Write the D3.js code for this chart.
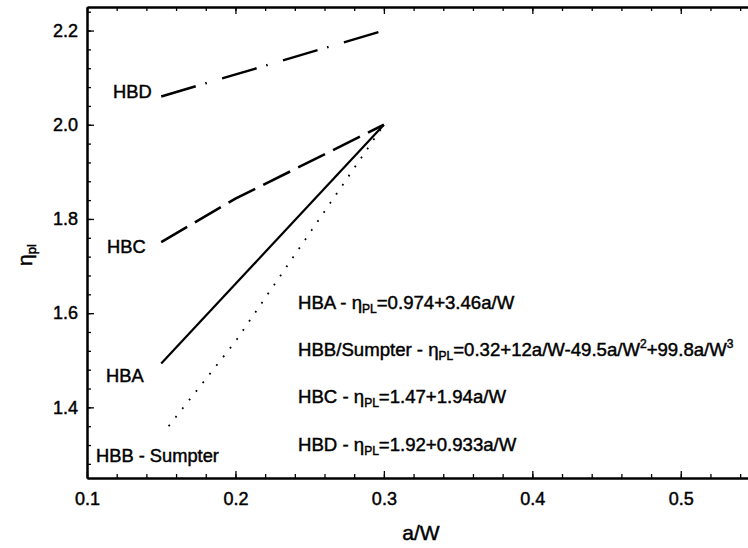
<!DOCTYPE html>
<html>
<head>
<meta charset="utf-8">
<script src="https://cdn.jsdelivr.net/npm/d3@7"></script>
<style>
  html, body { margin: 0; padding: 0; background: #fff; }
  svg { display: block; font-family: "Liberation Sans", Arial, sans-serif; }
  svg text { stroke: #000; stroke-width: 0.45px; }
</style>
</head>
<body>
<svg id="chart" width="748" height="548"></svg>
<script>
// ---- data ----
const xDomain = [0.1, 0.55];
const yDomain = [1.25, 2.25];
const xTickLabels = [0.1, 0.2, 0.3, 0.4, 0.5];
const yTickLabels = [1.4, 1.6, 1.8, 2.0, 2.2];

const hbaX = [0.15, 0.3];
const hbaY = [1.493, 2.0];

const hbbX = [0.155, 0.175, 0.2, 0.225, 0.25, 0.275, 0.3];
const hbbY = [1.36, 1.44, 1.54, 1.655, 1.77, 1.885, 2.0];

const hbcX = [0.15, 0.2, 0.3];
const hbcY = [1.751, 1.843, 2.0];

const hbdX = [0.15, 0.3];
const hbdY = [2.06, 2.2];

const seriesLabels = ["HBD", "HBC", "HBA", "HBB - Sumpter"];
const equations = [
  [["HBA - η", 0], ["PL", -1], ["=0.974+3.46a/W", 0]],
  [["HBB/Sumpter - η", 0], ["PL", -1], ["=0.32+12a/W-49.5a/W", 0], ["2", 1], ["+99.8a/W", 0], ["3", 1]],
  [["HBC - η", 0], ["PL", -1], ["=1.47+1.94a/W", 0]],
  [["HBD - η", 0], ["PL", -1], ["=1.92+0.933a/W", 0]]
];

(function draw() {
const svg = d3.select("#chart");
const mLeft = 87, mRight = 755, mTop = 7, mBottom = 478;
const x = d3.scaleLinear().domain(xDomain).range([mLeft, mRight]);
const y = d3.scaleLinear().domain(yDomain).range([mBottom, mTop]);

const xMinor = d3.range(0.1, 0.5501, 0.02).map(v => +v.toFixed(2));
const yMinor = d3.range(1.28, 2.2501, 0.04).map(v => +v.toFixed(2));

function styleAxis(g) {
  g.selectAll("path.domain").attr("stroke", "#000").attr("stroke-width", 2);
  g.selectAll(".tick line").attr("stroke", "#000").attr("stroke-width", 1.3);
  g.selectAll("text").attr("fill", "#000").attr("font-size", 18)
    .attr("font-family", "'Liberation Sans', Arial, sans-serif");
}

// bottom axis
styleAxis(svg.append("g").attr("transform", `translate(0,${mBottom})`)
  .call(d3.axisBottom(x).tickValues(xMinor).tickFormat("").tickSize(-4).tickSizeOuter(0)));
styleAxis(svg.append("g").attr("transform", `translate(0,${mBottom})`)
  .call(d3.axisBottom(x).tickValues(xTickLabels).tickFormat(d3.format(".1f")).tickSize(-7).tickSizeOuter(0).tickPadding(14)));

// top axis
styleAxis(svg.append("g").attr("transform", `translate(0,${mTop})`)
  .call(d3.axisTop(x).tickValues(xMinor).tickFormat("").tickSize(-4).tickSizeOuter(0)));
styleAxis(svg.append("g").attr("transform", `translate(0,${mTop})`)
  .call(d3.axisTop(x).tickValues(xTickLabels).tickFormat("").tickSize(-7).tickSizeOuter(0)));

// left axis
styleAxis(svg.append("g").attr("transform", `translate(${mLeft},0)`)
  .call(d3.axisLeft(y).tickValues(yMinor).tickFormat("").tickSize(-4).tickSizeOuter(0)));
styleAxis(svg.append("g").attr("transform", `translate(${mLeft},0)`)
  .call(d3.axisLeft(y).tickValues(yTickLabels).tickFormat(d3.format(".1f")).tickSize(-7).tickSizeOuter(0).tickPadding(9)));

// right axis (falls just outside the window)
styleAxis(svg.append("g").attr("transform", `translate(${mRight},0)`)
  .call(d3.axisRight(y).tickValues(yTickLabels).tickFormat("").tickSize(-7).tickSizeOuter(0)));

// ---- lines ----
const line = d3.line().x(d => x(d[0])).y(d => y(d[1]));
const zip = (a, b) => a.map((v, i) => [v, b[i]]);

svg.append("path").datum(zip(hbdX, hbdY)).attr("d", line)
  .attr("fill", "none").attr("stroke", "#000").attr("stroke-width", 2.4)
  .attr("stroke-dasharray", "36,10,1.5,16");

svg.append("path").datum(zip(hbcX, hbcY)).attr("d", line)
  .attr("fill", "none").attr("stroke", "#000").attr("stroke-width", 2.6)
  .attr("stroke-dasharray", "30,9");

svg.append("path").datum(zip(hbaX, hbaY)).attr("d", line)
  .attr("fill", "none").attr("stroke", "#000").attr("stroke-width", 2.2);

svg.append("path").datum(zip(hbbX, hbbY)).attr("d", line)
  .attr("fill", "none").attr("stroke", "#000").attr("stroke-width", 1.8)
  .attr("stroke-dasharray", "1.8,9.2");

// ---- series labels ----
const labelPos = [[113, 98], [107, 253], [106, 382], [96, 462]];
svg.selectAll("text.serieslabel").data(seriesLabels).enter().append("text")
  .attr("class", "serieslabel")
  .attr("x", (d, i) => labelPos[i][0]).attr("y", (d, i) => labelPos[i][1])
  .attr("font-size", 18.3).attr("fill", "#000").text(d => d);

// ---- equations ----
const eqBaselines = [309, 356, 403, 451];
equations.forEach((parts, i) => {
  const t = svg.append("text").attr("x", 298).attr("y", eqBaselines[i])
    .attr("font-size", 18.6).attr("fill", "#000");
  parts.forEach(([s, pos]) => {
    const ts = t.append("tspan").text(s);
    if (pos === -1) ts.attr("font-size", 12).attr("baseline-shift", "-4");
    else if (pos === 1) ts.attr("font-size", 12).attr("baseline-shift", "8");
  });
});

// ---- axis titles ----
svg.append("text").attr("x", (mLeft + mRight) / 2).attr("y", 540)
  .attr("text-anchor", "middle").attr("font-size", 21).attr("fill", "#000").text("a/W");

const yt = svg.append("text").attr("transform", "translate(32,255) rotate(-90)")
  .attr("text-anchor", "middle").attr("font-size", 21).attr("fill", "#000");
yt.append("tspan").text("η");
yt.append("tspan").attr("font-size", 13).attr("baseline-shift", "-4").text("pl");
})();
</script>
</body>
</html>
